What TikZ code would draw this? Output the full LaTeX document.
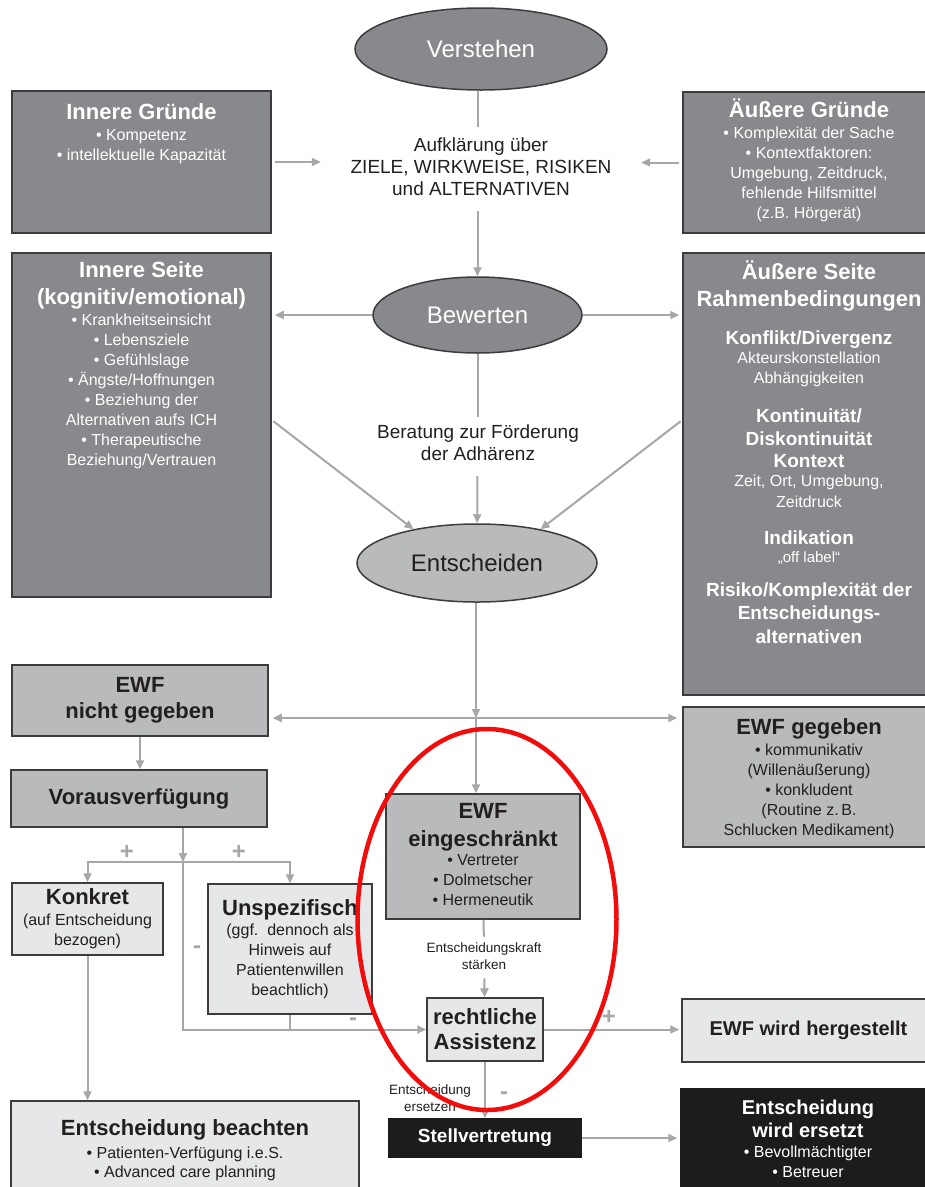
\documentclass[tikz,border=0pt]{standalone}
\usepackage{fontspec}
\setmainfont{Liberation Sans}
\usetikzlibrary{shapes.geometric,arrows.meta,positioning}

\definecolor{darkfill}{HTML}{88898C}
\definecolor{midfill}{HTML}{B9BABC}
\definecolor{lightfill}{HTML}{E6E7E8}
\definecolor{blackfill}{HTML}{1E1B1C}
\definecolor{edgegray}{HTML}{3C3C3E}
\definecolor{arrowgray}{HTML}{A6A7A9}
\definecolor{inkdark}{HTML}{231F20}
\definecolor{redring}{HTML}{F20D0D}

\newcommand\hdfont{\fontsize{22}{26}\selectfont\bfseries\lineskiplimit=-100pt\relax}
\newcommand\asfont{\fontsize{22}{25}\selectfont\bfseries\lineskiplimit=-100pt\relax}
\newcommand\ewfont{\fontsize{20}{23}\selectfont\bfseries}
\newcommand\sbfont{\fontsize{19}{23}\selectfont\bfseries}
\newcommand\bdfont{\fontsize{16}{20}\selectfont\lineskiplimit=-100pt\relax}
\newcommand\mdfont{\fontsize{19}{22}\selectfont\lineskiplimit=-100pt\relax}
\newcommand\smfont{\fontsize{13.5}{16.5}\selectfont\lineskiplimit=-100pt\relax}
\newcommand\olfont{\fontsize{15}{17}\selectfont}
\newcommand\ovfont{\fontsize{24}{28}\selectfont}
\newcommand\signfont{\fontsize{24}{24}\selectfont\bfseries}

\begin{document}
\begin{tikzpicture}[x=1pt, y=-1pt,
    box/.style={draw=edgegray, line width=1.5pt, inner sep=0pt},
    dark box/.style={box, fill=darkfill},
    mid box/.style={box, fill=midfill, text=inkdark, font=\hdfont, align=center},
    light box/.style={box, fill=lightfill, text=inkdark, font=\hdfont, align=center},
    black box/.style={box, draw=blackfill, fill=blackfill, text=white, align=center},
    oval/.style={ellipse, draw=edgegray, line width=1.5pt, inner sep=0pt, font=\ovfont},
    white text/.style={text=white, align=center, inner sep=0pt, font=\bdfont},
    dark text/.style={text=inkdark, align=center, inner sep=0pt, font=\bdfont},
    sign/.style={text=arrowgray, font=\signfont, inner sep=0pt},
    line/.style={draw=arrowgray, line width=2pt, -{Triangle[length=9pt, width=8pt]}},
    plain line/.style={draw=arrowgray, line width=2pt}]

  \useasboundingbox (0,0) rectangle (925,1187);
  \fill[white] (0,0) rectangle (925,1187);

  % the three steps
  \node[oval, fill=darkfill, text=white, minimum width=252, minimum height=82] (verstehen) at (481,49) {Verstehen};
  \node[oval, fill=darkfill, text=white, minimum width=209, minimum height=76] (bewerten) at (477.5,315) {Bewerten};
  \node[oval, fill=midfill, text=inkdark, minimum width=240, minimum height=78] (entscheiden) at (477,563) {Entscheiden};

  \node[dark text, font=\mdfont, minimum width=320, inner ysep=11pt] (aufkl) at (481,166.8)
    {Aufklärung über\\ZIELE, WIRKWEISE, RISIKEN\\und ALTERNATIVEN};
  \node[dark text, font=\mdfont, inner ysep=8pt] (beratung) at (478,442.7)
    {Beratung zur Förderung\\der Adhärenz};

  % grey boxes at the sides
  \node[dark box, minimum width=259, minimum height=142] (innerG) at (141.5,162) {};
  \node[white text, below=13pt of innerG.north] (innerGt)
    {{\hdfont Innere Gründe}\\[1pt]• Kompetenz\\• intellektuelle Kapazität};
  \node[dark box, minimum width=252, minimum height=141] (aussenG) at (809,162.5) {};
  \node[white text, below=7pt of aussenG.north] (aussenGt)
    {{\hdfont Äußere Gründe}\\[1pt]• Komplexität der Sache\\• Kontextfaktoren:\\Umgebung, Zeitdruck,\\fehlende Hilfsmittel\\(z.B. Hörgerät)};

  \node[dark box, minimum width=259, minimum height=344] (innerS) at (141.5,425) {};
  \node[white text, below=9pt of innerS.north] (innerSt)
    {{\hdfont Innere Seite}\\[7pt]{\hdfont (kognitiv/emotional)}\\[1pt]• Krankheitseinsicht\\• Lebensziele\\• Gefühlslage\\• Ängste/Hoffnungen\\• Beziehung der\\Alternativen aufs ICH\\• Therapeutische\\Beziehung/Vertrauen};
  \node[dark box, minimum width=252, minimum height=442] (aussenS) at (809,474) {};
  \node[white text, below=8pt of aussenS.north] (aussenSt)
    {{\hdfont Äußere Seite}\\[7pt]{\hdfont Rahmenbedingungen}\\[18pt]
     {\sbfont Konflikt/Divergenz}\\[-1pt]Akteurskonstellation\\Abhängigkeiten\\[19pt]
     {\sbfont Kontinuität/}\\[3pt]{\sbfont Diskontinuität}\\[2pt]{\sbfont Kontext}\\[-1pt]
     Zeit, Ort, Umgebung,\\[1pt]Zeitdruck\\[17pt]
     {\sbfont Indikation}\\[-2pt]{\olfont „off label“}\\[14pt]
     {\sbfont Risiko/Komplexität der}\\[3pt]{\sbfont Entscheidungs-}\\[4pt]{\sbfont alternativen}};

  % EWF
  \node[mid box, minimum width=256, minimum height=71] (ewfNicht) at (140,700.5) {EWF\\nicht gegeben};
  \node[mid box, minimum width=252, minimum height=140] (ewfGeg) at (809,777) {};
  \node[dark text, below=12pt of ewfGeg.north] (ewfGegt)
    {{\hdfont EWF gegeben}\\[1pt]• kommunikativ\\(Willenäußerung)\\• konkludent\\(Routine z.\,B.\\Schlucken Medikament)};
  \node[mid box, minimum width=194, minimum height=125] (ewfEin) at (483,856.5) {};
  \node[dark text, below=10pt of ewfEin.north] (ewfEint)
    {{\hdfont EWF}\\[8pt]{\hdfont eingeschränkt}\\[-1pt]• Vertreter\\• Dolmetscher\\• Hermeneutik};

  \node[mid box, minimum width=256, minimum height=57] (voraus) at (139,798.5) {Vorausverfügung};
  \node[light box, minimum width=151, minimum height=72] (konkret) at (87.5,919) {};
  \node[dark text, below=6pt of konkret.north] (konkrett)
    {{\hdfont Konkret}\\[1pt](auf Entscheidung\\bezogen)};
  \node[light box, minimum width=164, minimum height=130] (unspez) at (290,949) {};
  \node[dark text, below=16pt of unspez.north] (unspezt)
    {{\hdfont Unspezifisch}\\(ggf.\ \ dennoch als\\Hinweis auf\\Patientenwillen\\beachtlich)};

  \node[dark text, font=\smfont, inner ysep=6pt] (staerken) at (484,956) {Entscheidungskraft\\stärken};
  \node[light box, minimum width=116, minimum height=63, font=\asfont] (assist) at (485,1029.5) {rechtliche\\Assistenz};
  \node[light box, minimum width=253, minimum height=63, font=\ewfont] (hergest) at (808.5,1030.5) {EWF wird hergestellt};
  \node[black box, minimum width=192, minimum height=38, font=\sbfont] (stell) at (485,1138) {Stellvertretung};
  \node[dark text, font=\smfont] (ersetzen) at (430,1098) {Entscheidung\\ersetzen};
  \node[black box, minimum width=254, minimum height=111] (ersetzt) at (808,1144.5) {};
  \node[white text, below=12pt of ersetzt.north] (ersetztt)
    {{\ewfont Entscheidung}\\[3pt]{\ewfont wird ersetzt}\\• Bevollmächtigter\\• Betreuer};
  \node[light box, minimum width=348, minimum height=99] (beachten) at (185,1150.5) {};
  \node[dark text, below=19pt of beachten.north] (beachtent)
    {{\hdfont Entscheidung beachten}\\[3pt]• Patienten-Verfügung i.e.S.\\[-1pt]• Advanced care planning};

  % signs
  \node[sign] (plusA) at (127,852) {+};
  \node[sign] (plusB) at (239,852) {+};
  \node[sign] (minusA) at (197,950) {-};
  \node[sign] (minusB) at (353,1022) {-};
  \node[sign] (plusC) at (609,1017) {+};
  \node[sign] (minusC) at (504,1096) {-};

  % connectors, top half
  \draw[plain line] (bewerten |- verstehen.south) -- (bewerten |- aufkl.north);
  \draw[line, shorten <=4pt] (bewerten |- aufkl.south) -- (bewerten);
  \draw[line, shorten <=3pt] (innerG.east) -- (innerG.east -| aufkl.west);
  \draw[line, shorten <=3pt] (aussenG.west) -- (aussenG.west -| aufkl.east);
  \draw[line, shorten >=3pt] (bewerten) -- (bewerten -| innerS.east);
  \draw[line, shorten >=3pt] (bewerten) -- (bewerten -| aussenS.west);
  \draw[plain line] (bewerten) -- (bewerten |- beratung.north);
  \draw[line, shorten <=7pt] (bewerten |- beratung.south) -- (entscheiden);
  \draw[line, shorten <=2pt] ([yshift=5pt]innerS.east) -- (entscheiden.152);
  \draw[line, shorten <=2pt] ([yshift=54pt]aussenS.west) -- (entscheiden.28);

  % connectors, lower half
  \coordinate (split) at (476,718);
  \draw[line] (split |- entscheiden.south) -- (split);
  \draw[line, shorten >=4pt] (split) -- (split -| ewfNicht.east);
  \draw[line, shorten >=5pt] (split) -- (split -| ewfGeg.west);
  \draw[line] (split) -- (split |- ewfEin.north);

  \draw[line] (ewfNicht.south) -- (ewfNicht.south |- voraus.north);
  \coordinate (vsplit) at (183,862);
  \draw[line] (vsplit |- voraus.south) -- (vsplit);
  \draw[line] (vsplit) -| (konkret);
  \draw[line] (vsplit) -| (unspez);
  \draw[line] (vsplit) |- (assist);
  \draw[plain line] (unspez) -- (unspez |- assist.west);
  \draw[line] (konkret) -- (konkret |- beachten.north);

  \draw[plain line] (ewfEin) -- (staerken);
  \draw[line, shorten <=3pt] (staerken) -- (assist);
  \draw[line, shorten >=2pt] (assist) -- (assist -| hergest.west);
  \draw[line] (assist) -- (stell);
  \draw[line, shorten >=3pt] (stell) -- (stell -| ersetzt.west);

  % marking
  \draw[redring, line width=4.5pt] (487,919.5) ellipse [x radius=129.5, y radius=190.5];
\end{tikzpicture}
\end{document}
